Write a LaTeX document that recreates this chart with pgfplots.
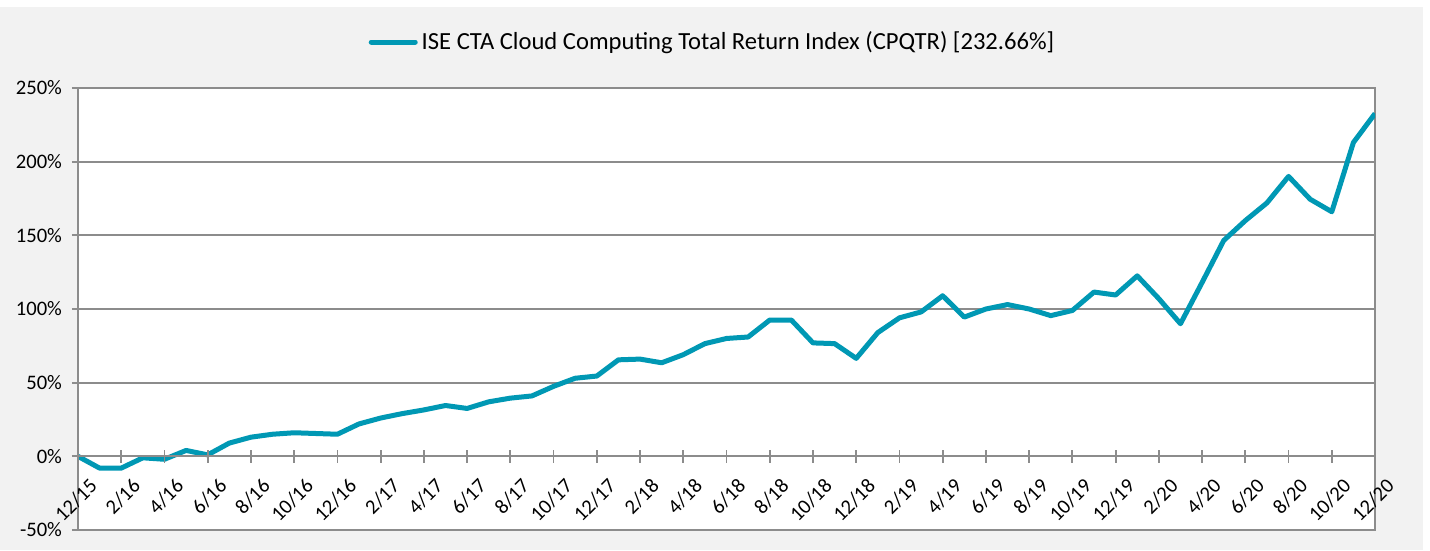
\documentclass[border=0pt]{standalone}
\usepackage{pgfplots}
\pgfplotsset{compat=1.18}
\usepackage{fontspec}
\setmainfont{Carlito}
\definecolor{bggray}{HTML}{F2F2F2}
\definecolor{axgray}{HTML}{8C8C8C}
\definecolor{teal}{HTML}{0098B4}
\begin{document}
\begin{tikzpicture}[x=1bp,y=1bp]
\useasboundingbox (0,0) rectangle (715,275);
\fill[white] (0,0) rectangle (715,275);
\fill[bggray] (0,0) rectangle (711.5,271.5);
\begin{axis}[
  at={(39bp,10bp)}, anchor=south west,
  scale only axis, width=648.5bp, height=221bp,
  xmin=0, xmax=60, ymin=-50, ymax=250,
  axis background/.style={fill=white},
  axis line style={axgray, line width=0.9bp},
  ytick={-50,0,50,100,150,200,250},
  yticklabels={-50\%,0\%,50\%,100\%,150\%,200\%,250\%},
  ymajorgrids, grid style={axgray, line width=0.9bp},
  xtick=\empty,
  ytick pos=left, tick align=outside, major tick length=3bp,
  tick style={axgray, line width=0.9bp},
  yticklabel style={font=\fontsize{10.3bp}{12bp}\selectfont, xshift=-1.5bp},
  legend style={at={(0.49,1.104)}, anchor=center, draw=none, fill=none,
    font=\fontsize{12.3bp}{14bp}\selectfont, inner sep=0pt},
  legend image code/.code={\draw[line width=2.5bp, line cap=round] (0bp,0bp)--(22bp,0bp);},
]
\addplot[teal, line width=2.5bp, line join=round] coordinates {
(0,0) (1,-8) (2,-8) (3,-1) (4,-2) (5,4) (6,1) (7,9) (8,13) (9,15)
(10,16) (11,15.5) (12,15) (13,22) (14,26) (15,29) (16,31.5) (17,34.5) (18,32.5) (19,37)
(20,39.5) (21,41) (22,47.5) (23,53) (24,54.5) (25,65.5) (26,66) (27,63.5) (28,69) (29,76.5)
(30,80) (31,81) (32,92.5) (33,92.5) (34,77) (35,76.5) (36,66.5) (37,84) (38,94) (39,98)
(40,109) (41,94.5) (42,100) (43,103) (44,100) (45,95.5) (46,99) (47,111.5) (48,109.5) (49,122.5)
(50,107) (51,90) (52,118) (53,146.5) (54,160) (55,172) (56,190) (57,174.5) (58,166) (59,213)
(60,232.66)};
\addlegendentry{ISE CTA Cloud Computing Total Return Index (CPQTR) [232.66\%]}
\end{axis}
\begin{axis}[
  at={(39bp,10bp)}, anchor=south west,
  scale only axis, width=648.5bp, height=221bp,
  xmin=0, xmax=60, ymin=-50, ymax=250,
  axis x line=middle, axis y line=none,
  x axis line style={axgray, line width=0.9bp, -},
  xtick={0,2,...,60},
  xticklabels={12/15,2/16,4/16,6/16,8/16,10/16,12/16,2/17,4/17,6/17,8/17,10/17,12/17,2/18,4/18,6/18,8/18,10/18,12/18,2/19,4/19,6/19,8/19,10/19,12/19,2/20,4/20,6/20,8/20,10/20,12/20},
  tick align=center, major tick length=6.5bp,
  tick style={axgray, line width=0.9bp},
  xticklabel style={rotate=45, anchor=east, font=\fontsize{10.3bp}{12bp}\selectfont, xshift=2bp, yshift=-12.5bp},
]
\end{axis}
\end{tikzpicture}
\end{document}
